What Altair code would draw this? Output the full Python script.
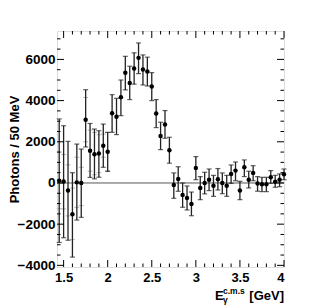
import altair as alt
import pandas as pd

# ---- data ----
energy = [1.45, 1.50, 1.55, 1.60, 1.65, 1.70, 1.75, 1.80, 1.85, 1.90,
          1.95, 2.00, 2.05, 2.10, 2.15, 2.20, 2.25, 2.30, 2.35, 2.40,
          2.45, 2.50, 2.55, 2.60, 2.65, 2.70, 2.75, 2.80, 2.85, 2.90,
          2.95, 3.00, 3.05, 3.10, 3.15, 3.20, 3.25, 3.30, 3.35, 3.40,
          3.45, 3.50, 3.55, 3.60, 3.65, 3.70, 3.75, 3.80, 3.85, 3.90,
          3.95, 4.00]
photons = [110, 70, -370, -1520, 30, 0, 3070, 1570, 1400, 1430,
           1810, 1520, 3390, 3220, 4160, 5350, 4860, 5560, 6075, 5510,
           5410, 4680, 3370, 2280, 2835, 1590, -100, 195, -580, -730,
           -1020, 730, -240, 0, 160, -130, 180, 0, -130, 440,
           600, -360, 760, 160, 490, -30, -65, -65, 275, 65,
           160, 420]
err_top = [3110, 2780, 2020, 500, 1890, 1650, 4530, 2890, 2620, 2540,
           2860, 2460, 4290, 4110, 5000, 6150, 5670, 6320, 6800, 6220,
           6110, 5360, 4050, 2950, 3515, 2220, 490, 790, 0, -145,
           -440, 1280, 310, 520, 680, 370, 700, 490, 370, 875,
           1020, 80, 1120, 570, 840, 310, 275, 275, 600, 370,
           440, 680]
err_bot = [-2890, -2660, -2780, -3600, -1800, -1670, 1750, 270, 200, 280,
           760, 560, 2460, 2350, 3270, 4520, 4050, 4800, 5310, 4760,
           4710, 4000, 2690, 1620, 2170, 960, -745, -405, -1180, -1310,
           -1590, 160, -810, -530, -370, -650, -340, -520, -650, -20,
           110, -810, 310, -240, 110, -400, -420, -420, -20, -210,
           -180, 160]
# inner (grey) error ticks on the low-energy points
stat_energy = [1.45, 1.50, 1.55, 1.60, 1.65, 1.70, 1.75, 1.80, 1.85, 1.90, 1.95, 2.00]
stat_top = [1500, 1380, 880, -250, 1250, 760, 4150, 2570, 2450, 2340, 2375, 2450]
stat_bot = [-1250, -1260, -1600, -2750, -1180, -1100, 2000, 570, 400, 500, 1250, 600]

x_major = [1.5, 2.0, 2.5, 3.0, 3.5, 4.0]
x_minor = [1.6, 1.7, 1.8, 1.9, 2.1, 2.2, 2.3, 2.4, 2.6, 2.7, 2.8, 2.9,
           3.1, 3.2, 3.3, 3.4, 3.6, 3.7, 3.8, 3.9]
y_major = [-4000, -2000, 0, 2000, 4000, 6000]
y_minor = [-3500, -3000, -2500, -1500, -1000, -500, 500, 1000, 1500,
           2500, 3000, 3500, 4500, 5000, 5500, 6500, 7000]

W, H = 227, 236
FONT = "Liberation Sans"

df = pd.DataFrame({"e": energy, "n": photons, "hi": err_top, "lo": err_bot})
dstat = pd.DataFrame({"e": stat_energy, "hi": stat_top, "lo": stat_bot})

xs = alt.Scale(domain=[1.425, 4.0], nice=False, zero=False)
ys = alt.Scale(domain=[-4080, 7380], nice=False, zero=False)

X = alt.X("e:Q", scale=xs, axis=alt.Axis(
    values=x_major, format="~g", ticks=False, domain=False, grid=False,
    labelFont=FONT, labelFontWeight="bold", labelFontSize=13,
    labelColor="black", labelPadding=4, title=None))
Y = alt.Y("n:Q", scale=ys, axis=alt.Axis(
    values=y_major, format="d", ticks=False, domain=False, grid=False,
    labelFont=FONT, labelFontWeight="bold", labelFontSize=13.5,
    labelColor="black", labelPadding=2,
    title="Photons / 50 MeV", titleFont=FONT, titleFontWeight="bold",
    titleFontSize=13, titleColor="black", titleX=-43, titleY=H / 2,
    titleAngle=-90, titleAlign="center", titleBaseline="middle"))

zero_line = alt.Chart(pd.DataFrame({"z": [0]})).mark_rule(
    color="#555555", strokeWidth=1).encode(
    y=alt.Y("z:Q", scale=ys), x=alt.value(0), x2=alt.value(W))

stat_caps_hi = alt.Chart(dstat).mark_tick(
    orient="horizontal", color="#999999", size=5, thickness=1).encode(
    x=alt.X("e:Q", scale=xs), y=alt.Y("hi:Q", scale=ys))
stat_caps_lo = alt.Chart(dstat).mark_tick(
    orient="horizontal", color="#999999", size=5, thickness=1).encode(
    x=alt.X("e:Q", scale=xs), y=alt.Y("lo:Q", scale=ys))

bars = alt.Chart(df).mark_rule(color="#222222", strokeWidth=1.3).encode(
    x=alt.X("e:Q", scale=xs), y=alt.Y("lo:Q", scale=ys), y2="hi:Q")
caps_hi = alt.Chart(df).mark_tick(
    orient="horizontal", color="#222222", size=5, thickness=1.2).encode(
    x=alt.X("e:Q", scale=xs), y=alt.Y("hi:Q", scale=ys))
caps_lo = alt.Chart(df).mark_tick(
    orient="horizontal", color="#222222", size=5, thickness=1.2).encode(
    x=alt.X("e:Q", scale=xs), y=alt.Y("lo:Q", scale=ys))
points = alt.Chart(df).mark_circle(color="black", opacity=1, size=20).encode(
    x=X, y=Y)


def xticks(vals, length, top):
    d = pd.DataFrame({"v": vals})
    if top:
        return alt.Chart(d).mark_rule(color="black", strokeWidth=1).encode(
            x=alt.X("v:Q", scale=xs), y=alt.value(0), y2=alt.value(length))
    return alt.Chart(d).mark_rule(color="black", strokeWidth=1).encode(
        x=alt.X("v:Q", scale=xs), y=alt.value(H), y2=alt.value(H - length))


def yticks(vals, length, right):
    d = pd.DataFrame({"v": vals})
    if right:
        return alt.Chart(d).mark_rule(color="black", strokeWidth=1).encode(
            y=alt.Y("v:Q", scale=ys), x=alt.value(W), x2=alt.value(W - length))
    return alt.Chart(d).mark_rule(color="black", strokeWidth=1).encode(
        y=alt.Y("v:Q", scale=ys), x=alt.value(0), x2=alt.value(length))


tick_layers = [
    xticks(x_major, 7, False), xticks(x_minor, 3.5, False),
    xticks(x_major, 7, True), xticks(x_minor, 3.5, True),
    yticks(y_major, 7, False), yticks(y_minor, 3.5, False),
    yticks(y_major, 7, True), yticks(y_minor, 3.5, True),
]


def label(txt, x, y, size, align="left"):
    return alt.Chart(pd.DataFrame({"t": [txt]})).mark_text(
        font=FONT, fontWeight="bold", fontSize=size, color="black",
        align=align, baseline="alphabetic").encode(
        text="t:N", x=alt.value(x), y=alt.value(y))


xtitle = [
    label("E", 158, H + 33, 13),
    label("c.m.s", 166, H + 27, 8.5),
    label("γ", 166, H + 36, 8.5),
    label("[GeV]", W, H + 33, 13, align="right"),
]

chart = alt.layer(
    zero_line, stat_caps_hi, stat_caps_lo, bars, caps_hi, caps_lo,
    *tick_layers, *xtitle, points,
).properties(
    width=W, height=H,
    autosize=alt.AutoSizeParams(type="none"),
    padding={"left": 49, "top": 23, "right": 20, "bottom": 40},
).configure_view(stroke="black", strokeWidth=1.5).configure(background="white")

chart.save("out.html", embed_options={"renderer": "svg", "actions": False})
